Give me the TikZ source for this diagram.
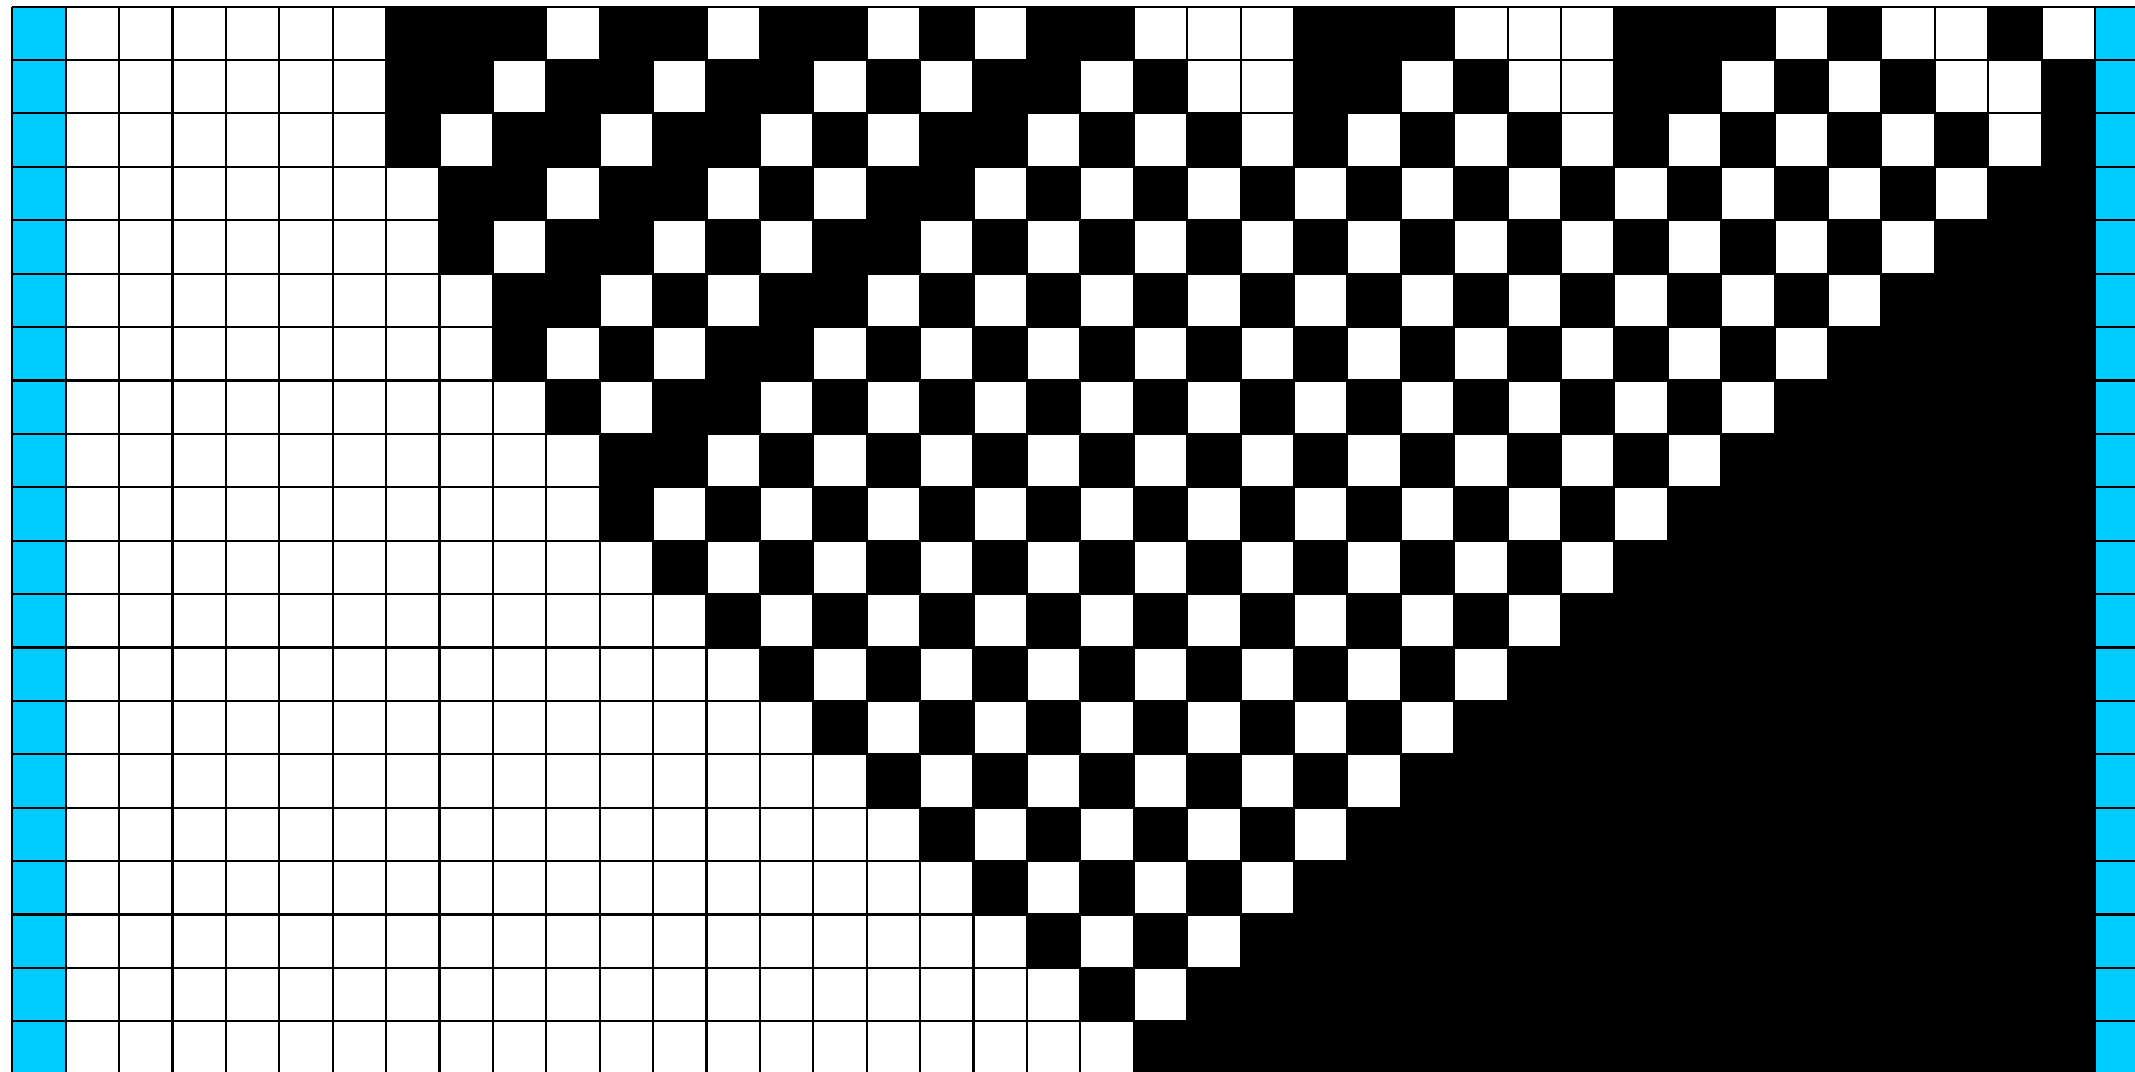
\documentclass[tikz,border=0pt]{standalone}
\definecolor{cellcyan}{RGB}{0,204,255}
\tikzset{gridline/.style={line width=1.1pt, draw=black}}
\newcommand{\blackrow}[2]{\foreach \c in {#2} {\fill[black] (\c,-#1) rectangle ++(1,-1);}}
\newcommand{\solidrun}[2]{\fill[black] (#2,-#1) rectangle (38,-#1-1);}
\begin{document}
\begin{tikzpicture}[x=1cm,y=1cm]
\useasboundingbox (0,0) rectangle (39.98,20.07);
\fill[white] (0,0) rectangle (39.98,20.07);
\clip (0,0) rectangle (39.98,20.07);
\begin{scope}[shift={(1.23,19.945)}]
  % boundary columns
  \fill[cellcyan] (-1,0) rectangle (0,-20);
  \fill[cellcyan] (38,0) rectangle (39,-20);
  % irregular rows
  \blackrow{0}{6,7,8,10,11,13,14,16,18,19,23,24,25,29,30,31,33,36}
  \blackrow{1}{6,7,9,10,12,13,15,17,18,20,23,24,26,29,30,32,34,37}
  \blackrow{2}{6,8,9,11,12,14,16,17,19,21,23,25,27,29,31,33,35,37}
  \blackrow{3}{7,8,10,11,13,15,16,18,20,22,24,26,28,30,32,34,36,37}
  \blackrow{4}{7,9,10,12,14,15,17,19,21,23,25,27,29,31,33,35,36,37}
  \blackrow{5}{8,9,11,13,14,16,18,20,22,24,26,28,30,32,34,35,36,37}
  \blackrow{6}{8,10,12,13,15,17,19,21,23,25,27,29,31,33,34,35,36,37}
  \blackrow{7}{9,11,12,14,16,18,20,22,24,26,28,30,32,33,34,35,36,37}
  \blackrow{8}{10,11,13,15,17,19,21,23,25,27,29,31,32,33,34,35,36,37}
  % regular rows: checker part plus solid jam
  \blackrow{9}{10,12,14,16,18,20,22,24,26,28}   \solidrun{9}{30}
  \blackrow{10}{11,13,15,17,19,21,23,25,27}     \solidrun{10}{29}
  \blackrow{11}{12,14,16,18,20,22,24,26}        \solidrun{11}{28}
  \blackrow{12}{13,15,17,19,21,23,25}           \solidrun{12}{27}
  \blackrow{13}{14,16,18,20,22,24}              \solidrun{13}{26}
  \blackrow{14}{15,17,19,21,23}                 \solidrun{14}{25}
  \blackrow{15}{16,18,20,22}                    \solidrun{15}{24}
  \blackrow{16}{17,19,21}                       \solidrun{16}{23}
  \blackrow{17}{18,20}                          \solidrun{17}{22}
  \blackrow{18}{19}                             \solidrun{18}{21}
  \solidrun{19}{20}
  % grid lines on top
  \draw[gridline] (-1,-20) grid (39,0);
\end{scope}
\end{tikzpicture}
\end{document}
